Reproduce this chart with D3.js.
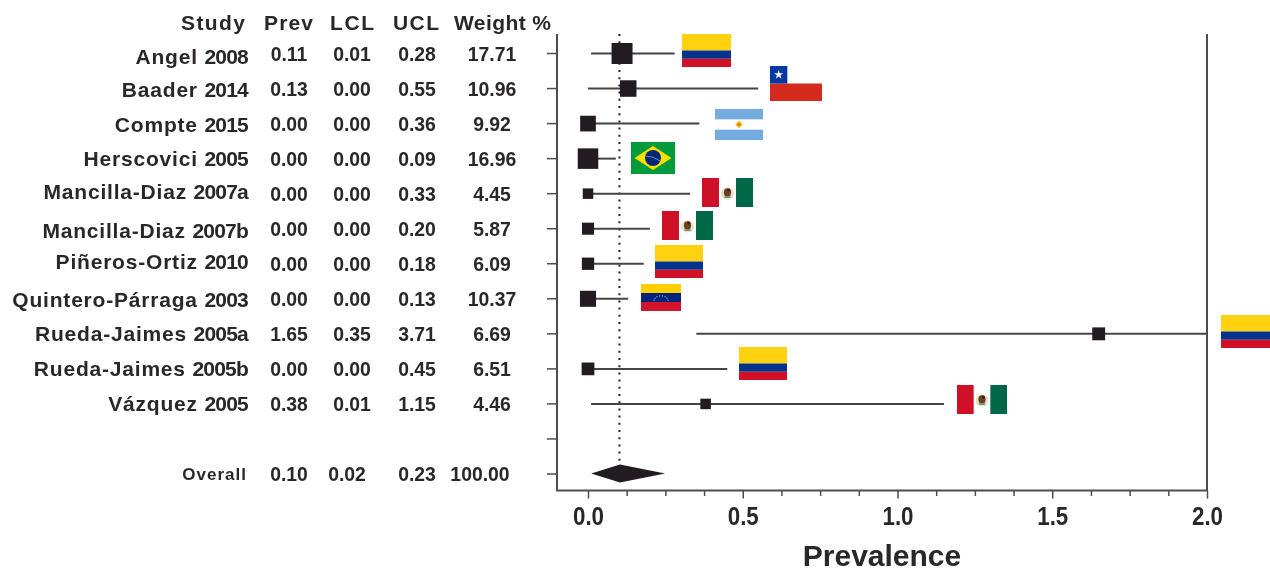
<!DOCTYPE html>
<html><head><meta charset="utf-8">
<script src="https://cdnjs.cloudflare.com/ajax/libs/d3/7.8.5/d3.min.js"></script>
<style>
html,body{margin:0;padding:0;background:#fff;overflow:hidden}
text{font-family:"Liberation Sans",Arial,sans-serif;font-weight:700;fill:#2b2829}
</style></head><body>
<svg id="c" width="1270" height="569"></svg>
<script>
const studyNames = ["Angel","Baader","Compte","Herscovici","Mancilla-Diaz","Mancilla-Diaz","Piñeros-Ortiz","Quintero-Párraga","Rueda-Jaimes","Rueda-Jaimes","Vázquez"];
const studyYears = ["2008","2014","2015","2005","2007a","2007b","2010","2003","2005a","2005b","2005"];
const prev   = [0.11,0.13,0.00,0.00,0.00,0.00,0.00,0.00,1.65,0.00,0.38];
const lcl    = [0.01,0.00,0.00,0.00,0.00,0.00,0.00,0.00,0.35,0.00,0.01];
const ucl    = [0.28,0.55,0.36,0.09,0.33,0.20,0.18,0.13,3.71,0.45,1.15];
const weight = [17.71,10.96,9.92,16.96,4.45,5.87,6.09,10.37,6.69,6.51,4.46];
const flags  = ["CO","CL","AR","BR","MX","MX","CO","VE","CO","CO","MX"];
const overall = {label:"Overall",prev:0.10,lcl:0.02,ucl:0.23,weight:100.00};
const headers = ["Study","Prev","LCL","UCL","Weight %"];
const majorTicks = [0,0.5,1,1.5,2];
const minorTicks = [0.125,0.25,0.375,0.625,0.75,0.875,1.125,1.25,1.375,1.625,1.75,1.875];
const xTitle = "Prevalence";

// ---- layout (not data) ----
const rowKeys = studyNames.map((d,i)=>"s"+i).concat(["blank","overall"]);
const x = d3.scaleLinear().domain([0,2]).range([588,1207]);
const y = d3.scalePoint().domain(rowKeys).range([53,473.5]);
const side = d3.scaleSqrt().domain([0,17.71]).range([0,21]);
const top_ = 34, bottom = 490.5, left = 557, right = 1207;
const ink = "#231f20", line = "#4d4d4d";
const labelDy = [4,2,2,1,-1,3,-1,2,1,1,1];
const flagBox = [[682,34,49,33],[770,66,52,35],[715,109,48,31],[631,142,44,32],[702,178,51,29],[662,211,51,29],[655,245,48,33],[641,284,40,27],[1221,315,49,33],[739,347,48,33],[957,385,50,29]];

const svg = d3.select("#c");
const defs = svg.append("defs");
defs.append("filter").attr("id","soft").attr("x","-5%").attr("y","-5%").attr("width","110%").attr("height","110%")
  .append("feGaussianBlur").attr("stdDeviation",0.5);
defs.append("clipPath").attr("id","plot").append("rect").attr("x",left).attr("y",0).attr("width",right-left).attr("height",569);
const g = svg.append("g").attr("filter","url(#soft)");

// axes
const xAxis = d3.axisBottom(x).tickValues(majorTicks.concat(minorTicks)).tickSize(5.5).tickSizeOuter(0)
  .tickFormat(d=>majorTicks.includes(d)?d3.format(".1f")(d):"");
const xg = g.append("g").attr("transform",`translate(0,${bottom})`).call(xAxis);
xg.select(".domain").remove();
xg.selectAll("line").attr("stroke",line).attr("stroke-width",1.5).attr("y2",d=>majorTicks.includes(d)?8:5.5);
xg.selectAll("text").attr("y",16.5).attr("dy","0.71em").attr("font-size",26).attr("fill",ink)
  .attr("transform","scale(0.86,1)").style("font-family",'"Liberation Sans"').style("font-weight",700);

const yAxis = d3.axisLeft(y).tickSize(10).tickSizeOuter(0).tickFormat("");
const yg = g.append("g").attr("transform",`translate(${left},0)`).call(yAxis);
yg.select(".domain").remove();
yg.selectAll("line").attr("stroke",line).attr("stroke-width",1.5);

g.append("path").attr("d",`M${left},${top_}V${bottom}H${right}V${top_}`).attr("fill","none").attr("stroke",line).attr("stroke-width",2);

// reference line
g.append("line").attr("x1",x(overall.prev)+0.5).attr("x2",x(overall.prev)+0.5).attr("y1",top_).attr("y2",y("overall")-6)
  .attr("stroke",ink).attr("stroke-width",2).attr("stroke-dasharray","2 5.2");

// CI lines + squares
const rows = studyNames.map((n,i)=>({i,key:rowKeys[i],n,yr:studyYears[i],p:prev[i],l:lcl[i],u:ucl[i],w:weight[i]}));
const plot = g.append("g").attr("clip-path","url(#plot)");
plot.selectAll("line.ci").data(rows).join("line").attr("class","ci")
  .attr("x1",d=>x(d.l)).attr("x2",d=>x(d.u)).attr("y1",d=>y(d.key)+0.5).attr("y2",d=>y(d.key)+0.5)
  .attr("stroke","#444").attr("stroke-width",2);
plot.selectAll("rect.sq").data(rows).join("rect").attr("class","sq")
  .attr("x",d=>x(d.p)-side(d.w)/2).attr("y",d=>y(d.key)+0.5-side(d.w)/2)
  .attr("width",d=>side(d.w)).attr("height",d=>side(d.w)).attr("fill",ink);

// overall diamond
const oy = y("overall");
g.append("path").attr("fill",ink)
  .attr("d",`M${x(overall.lcl)-3},${oy}L${x(overall.prev)+1},${oy-9}L${x(overall.ucl)+6},${oy}L${x(overall.prev)+1},${oy+9}Z`);

// table
const hdr = g.append("g");
[[181,64],[264,49],[330,44],[393,46],[454,97]].forEach((h,i)=>{
  hdr.append("text").attr("x",h[0]).attr("y",30).attr("font-size",21).attr("textLength",h[1]).attr("lengthAdjust","spacing").text(headers[i]);
});
const lab = g.selectAll("text.lab").data(rows).join("text").attr("class","lab")
  .attr("x",248).attr("y",d=>y(d.key)+labelDy[d.i]+7).attr("text-anchor","end").attr("font-size",21);
lab.append("tspan").style("letter-spacing","0.8px").text(d=>d.n+" ");
lab.append("tspan").style("letter-spacing","-0.8px").text(d=>d.yr);
g.append("text").attr("x",247).attr("y",oy+6.5).attr("text-anchor","end").attr("font-size",17).style("letter-spacing","1px").text(overall.label);

const fmt = d3.format(".2f");
function val(sel,cx,yy){ sel.attr("transform",(d,i)=>`translate(${cx},${yy(i)}) scale(0.97,1)`).attr("text-anchor","middle").attr("font-size",20).text(d=>fmt(d)); }
[[prev,289],[lcl,352],[ucl,417],[weight,492]].forEach(([arr,cx])=>{
  g.append("g").selectAll("text").data(arr).join("text").call(val,cx,i=>y(rowKeys[i])+7.5);
});
[[overall.prev,289],[overall.lcl,347],[overall.ucl,417],[overall.weight,480]].forEach(([v,cx])=>{
  g.append("g").selectAll("text").data([v]).join("text").call(val,cx,()=>oy+7.5);
});

g.append("text").attr("x",882).attr("y",566).attr("text-anchor","middle").attr("font-size",30).text(xTitle);

// flags
function band(f,x0,y0,w,h,c){f.append("rect").attr("x",x0).attr("y",y0).attr("width",w).attr("height",h).attr("fill",c);}
function drawFlag(code,b){
  const [fx,fy,w,h]=b, f=svg.append("g");
  if(code==="CO"){
    band(f,fx,fy,w,h/2,"#ffd20f");band(f,fx,fy+h/2,w,h/4,"#00338d");band(f,fx,fy+h*.75,w,h/4,"#ce1126");
  } else if(code==="VE"){
    band(f,fx,fy,w,h/3,"#ffcf00");band(f,fx,fy+h/3,w,h/3,"#00247d");band(f,fx,fy+h*2/3,w,h/3,"#cf142b");
    d3.range(8).forEach(k=>{const a=Math.PI*(k+.5)/8;
      band(f,fx+w/2-Math.cos(a)*w*.18-.5,fy+h*.62-Math.sin(a)*h*.2,1,1,"#cfd8f0");});
  } else if(code==="CL"){
    band(f,fx,fy+h/2,w,h/2,"#d52b1e");band(f,fx,fy,w/3,h/2,"#0039a6");
    f.append("path").attr("d",d3.symbol(d3.symbolStar,26)()).attr("transform",`translate(${fx+w/6},${fy+h/4})`).attr("fill","#fff");
  } else if(code==="AR"){
    band(f,fx,fy,w,h/3,"#74acdf");band(f,fx,fy+h*2/3,w,h/3,"#74acdf");
    f.append("path").attr("d",d3.symbol(d3.symbolDiamond2,34)()).attr("transform",`translate(${fx+w/2},${fy+h/2})`).attr("fill","#f6b40e");
    f.append("circle").attr("cx",fx+w/2).attr("cy",fy+h/2).attr("r",1.6).attr("fill","#d9830f");
  } else if(code==="BR"){
    band(f,fx,fy,w,h,"#009b3a");
    f.append("path").attr("fill","#fedf00").attr("d",`M${fx+3.5},${fy+h/2}L${fx+w/2},${fy+4}L${fx+w-3.5},${fy+h/2}L${fx+w/2},${fy+h-4}Z`);
    f.append("circle").attr("cx",fx+w/2).attr("cy",fy+h/2).attr("r",8).attr("fill","#002776");
    f.append("path").attr("fill","none").attr("stroke","#9fb4d0").attr("stroke-width",.7)
      .attr("d",`M${fx+w/2-7.5},${fy+h/2-2}Q${fx+w/2},${fy+h/2-2} ${fx+w/2+7.5},${fy+h/2+3}`);
  } else if(code==="MX"){
    band(f,fx,fy,w/3,h,"#ce1126");band(f,fx+w*2/3,fy,w/3,h,"#006847");
    const cx=fx+w/2, cy=fy+h/2;
    f.append("ellipse").attr("cx",cx).attr("cy",cy+1).attr("rx",6.5).attr("ry",6).attr("fill","#e4e2c6");
    f.append("ellipse").attr("cx",cx).attr("cy",cy).attr("rx",3.6).attr("ry",4.2).attr("fill","#6e4022");
    f.append("circle").attr("cx",cx+1.2).attr("cy",cy-2.5).attr("r",1.6).attr("fill","#3d2412");
    f.append("ellipse").attr("cx",cx).attr("cy",cy+4.5).attr("rx",3.5).attr("ry",1).attr("fill","#6f9a70");
  }
}
flags.forEach((c,i)=>drawFlag(c,flagBox[i]));
</script></body></html>
